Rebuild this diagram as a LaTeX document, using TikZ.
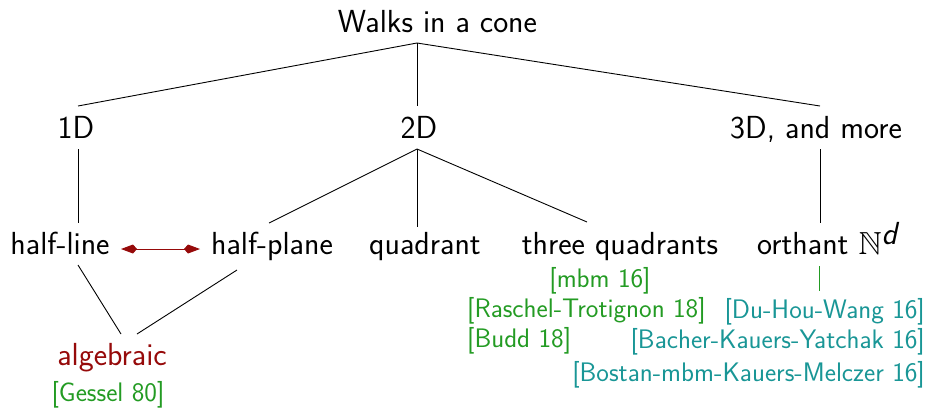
\documentclass[tikz,border=0pt]{standalone}
\usepackage{amssymb}
\usepackage{fontspec}
\setsansfont{lmsans17-regular}[Extension=.otf,ItalicFont=lmsans17-oblique,SlantedFont=lmsans17-oblique]
\renewcommand{\familydefault}{\sfdefault}
\usetikzlibrary{arrows.meta}
\definecolor{refgreen}{RGB}{35,155,35}
\definecolor{refteal}{RGB}{25,150,150}
\definecolor{refred}{RGB}{150,10,10}
\begin{document}
\begin{tikzpicture}[x=1pt,y=-1pt,
  main/.style={inner sep=0pt,font=\fontsize{31.9}{38}\selectfont\sffamily},
  ref/.style={inner sep=0pt,font=\fontsize{26.8}{32}\selectfont\sffamily},
  green ref/.style={ref,text=refgreen},
  teal ref/.style={ref,text=refteal},
  edge/.style={draw=black,line width=0.9pt},
  link/.style={draw=refred,line width=1pt,{Kite[length=16pt,width=9pt,inset=4pt]}-{Kite[length=16pt,width=9pt,inset=4pt]}}]
\useasboundingbox (0,0) rectangle (934,408);
% nodes
\node[main,anchor=base] (root) at (437.5,32) {Walks in a cone};
\node[main,anchor=base] (d1) at (76,138) {1D};
\node[main,anchor=base] (d2) at (419,138) {2D};
\node[main,anchor=base] (d3) at (816,138) {3D, and more};
\node[main,anchor=base] (hl) at (60,254) {half-line};
\node[main,anchor=base] (hp) at (272,254) {half-plane};
\node[main,anchor=base] (qu) at (425,254) {quadrant};
\node[main,anchor=base] (tq) at (620,254) {three quadrants};
\node[main,anchor=base west] (or) at (757,254) {orthant $\mathbb{N}^{\textsf{\itshape d}}$};
\node[main,anchor=base,text=refred] (alg) at (112,365) {algebraic};
\node[green ref,anchor=base] (gessel) at (108,401) {[Gessel 80]};
\node[green ref,anchor=base] (mbm) at (600,287) {[mbm 16]};
\node[green ref,anchor=base west] (rt) at (467,317) {[Raschel-Trotignon 18]};
\node[green ref,anchor=base west] (budd) at (467,347) {[Budd 18]};
\node[teal ref,anchor=base east] (dhw) at (925,318) {[Du-Hou-Wang 16]};
\node[teal ref,anchor=base east] (bky) at (925,348) {[Bacher-Kauers-Yatchak 16]};
\node[teal ref,anchor=base east] (bmkm) at (925,381) {[Bostan-mbm-Kauers-Melczer 16]};
% connector end points
\coordinate (rootS) at (417,43);
\coordinate (d1N) at (78,106);
\coordinate (d2N) at (417,106);
\coordinate (d3N) at (820,106);
\coordinate (d1S) at (78,149);
\coordinate (d2S) at (417,149);
\coordinate (d3S) at (820,149);
\coordinate (hlN) at (78,223);
\coordinate (hpN) at (269,223);
\coordinate (quN) at (417,227);
\coordinate (tqN) at (587,222);
\coordinate (orN) at (820,223);
\coordinate (hlS) at (78,265);
\coordinate (hpS) at (237,270);
\coordinate (algNl) at (121,334);
\coordinate (algNr) at (137,334);
\coordinate (orS) at (819,266);
\coordinate (dhwN) at (819,291);
\coordinate (hlE) at (121,249);
\coordinate (hpW) at (200,249);
% connectors
\draw[edge] (rootS) -- (d1N);
\draw[edge] (rootS) -- (d2N);
\draw[edge] (rootS) -- (d3N);
\draw[edge] (d1S) -- (hlN);
\draw[edge] (d2S) -- (hpN);
\draw[edge] (d2S) -- (quN);
\draw[edge] (d2S) -- (tqN);
\draw[edge] (d3S) -- (orN);
\draw[edge] (hlS) -- (algNl);
\draw[edge] (hpS) -- (algNr);
\draw[draw=refgreen,line width=0.8pt] (orS) -- (dhwN);
\draw[link] (hlE) -- (hpW);
\end{tikzpicture}
\end{document}
